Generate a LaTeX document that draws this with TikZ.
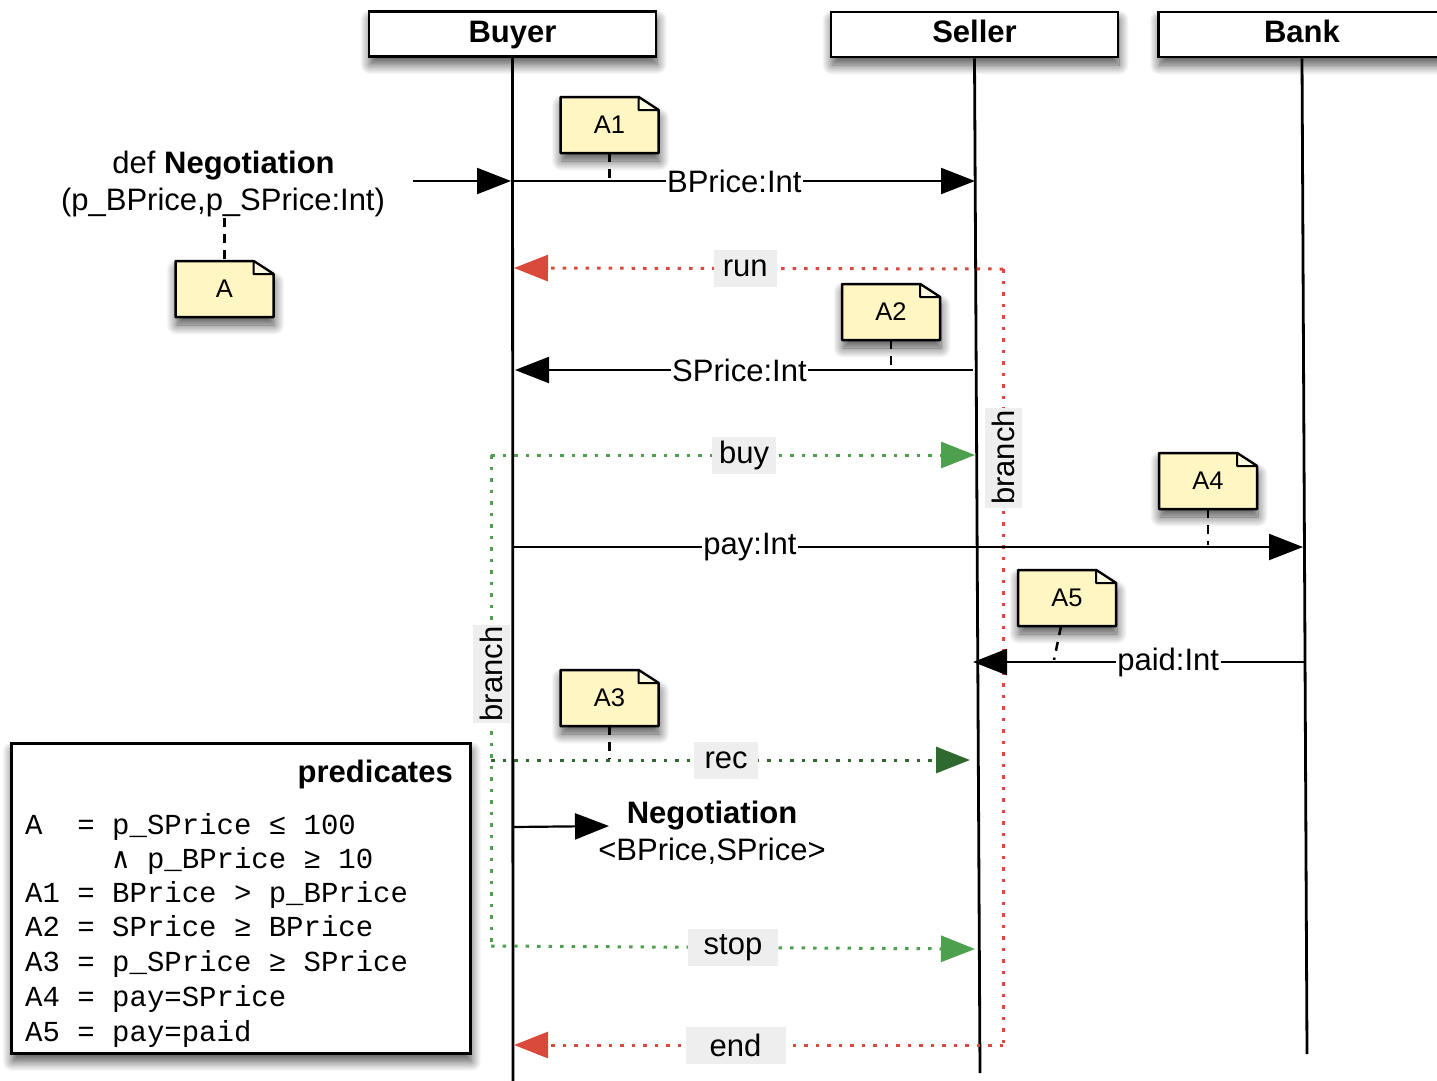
\documentclass[tikz,border=0pt]{standalone}
\usepackage{fontspec}
\setmainfont{Liberation Sans}
\newfontfamily\monof{Liberation Mono}
\newfontfamily\symf{DejaVu Sans Mono}
\usetikzlibrary{arrows.meta,calc,shadows.blur}
\definecolor{notefill}{HTML}{FFF6C4}
\definecolor{foldfill}{HTML}{FFFBE3}
\definecolor{runred}{HTML}{D94A3D}
\definecolor{lgreen}{HTML}{4DA04D}
\definecolor{dgreen}{HTML}{2F6930}
\definecolor{lblgray}{HTML}{EEEEEE}
\tikzset{
  bigfont/.style={font=\fontsize{31}{37}\selectfont},
  softshadow/.style={blur shadow={shadow xshift=1pt, shadow yshift=-8pt, shadow blur radius=10pt, shadow blur steps=14, shadow opacity=70}},
  header/.style={draw, line width=2.8pt, fill=white, minimum width=287pt, minimum height=45pt, inner sep=0pt, text height=22pt, text depth=6pt, font=\fontsize{31}{37}\selectfont\bfseries, softshadow},
  lifeline/.style={line width=2.8pt},
  bigtip/.style={-{Triangle[length=34pt,width=26pt]}},
  msg/.style={line width=2.2pt, bigtip},
  mlabel/.style={fill=white, inner xsep=1.5pt, inner ysep=1pt, bigfont},
  glabel/.style={fill=lblgray, inner sep=0pt, minimum height=37pt, bigfont},
  reddot/.style={draw=runred, line width=3pt, dash pattern=on 3.5pt off 8pt},
  gdot/.style={draw=lgreen, line width=3pt, dash pattern=on 3.5pt off 8pt},
  dgdot/.style={draw=dgreen, line width=3pt, dash pattern=on 3.5pt off 8pt},
  notelink/.style={line width=2.5pt, dash pattern=on 9pt off 7pt},
  mono/.style={anchor=base west, inner sep=0pt, font=\monof\fontsize{29}{34}\selectfont},
  predbox/.style={draw, line width=2.8pt, fill=white, softshadow, minimum width=459pt, minimum height=310pt, inner sep=0pt}
}
\newcommand\notebox[3]{%
  \coordinate (#1c) at (#2);
  \filldraw[fill=notefill, draw=black, line width=2.5pt, line join=round, softshadow]
    ($(#1c)+(-49,-28)$) -- ($(#1c)+(29,-28)$) -- ($(#1c)+(49,-15)$) -- ($(#1c)+(49,28)$) -- ($(#1c)+(-49,28)$) -- cycle;
  \filldraw[fill=foldfill, draw=black, line width=2pt, line join=round]
    ($(#1c)+(29,-28)$) -- ($(#1c)+(29,-15)$) -- ($(#1c)+(49,-15)$) -- cycle;
  \node[minimum width=98pt, minimum height=56pt, inner sep=0pt, font=\fontsize{25.5}{30}\selectfont] (#1) at (#1c) {#3};
}
\begin{document}
\begin{tikzpicture}[x=1pt,y=-1pt]
\useasboundingbox (0,0) rectangle (1437,1080);
\clip (0,0) rectangle (1437,1080);

% headers
\node[header] (Buyer) at (512.5,34) {Buyer};
\node[header] (Seller) at (974.5,34.5) {Seller};
\node[header] (Bank) at (1302,34.5) {Bank};

% lifelines
\coordinate (buyerEnd) at (513,1082);
\coordinate (sellerEnd) at (980,1073);
\coordinate (bankEnd) at (1307,1054);
\draw[lifeline] (Buyer.south) -- (buyerEnd);
\draw[lifeline] (Seller.south) -- (sellerEnd);
\draw[lifeline] (Bank.south) -- (bankEnd);

% coordinates of message ends
\coordinate (defarr) at (413,181);
\coordinate (b0) at (511,181);
\coordinate (b1) at (513,181);
\coordinate (s1) at (975,181);
\coordinate (r0) at (1003,269);
\coordinate (b2) at (514,268);
\coordinate (s2) at (973,370);
\coordinate (b3) at (515,370);
\coordinate (g0) at (491,455);
\coordinate (s3) at (975,455);
\coordinate (b4) at (513,547);
\coordinate (k1) at (1303,547);
\coordinate (k2) at (1305,662);
\coordinate (s4) at (973,662);
\coordinate (g1) at (491,760);
\coordinate (s5) at (970,760);
\coordinate (b5) at (513,827);
\coordinate (negcall) at (609,826);
\coordinate (g2) at (491,946);
\coordinate (s6) at (975,949);
\coordinate (r1) at (1003,1045);
\coordinate (b9) at (514,1045);

% definition
\node[anchor=base, inner sep=0pt, bigfont] (defa) at (223.5,173) {def \textbf{Negotiation}};
\node[anchor=base, inner sep=1pt, bigfont] (defb) at (223,210) {(p\_BPrice,p\_SPrice:Int)};
\draw[msg] (defarr) -- (b0);

% red branch
\draw[reddot] (r0) -- node[glabel, rotate=90, minimum width=100pt, pos=0.243] {branch} (r1);
\draw[reddot, bigtip] (r0) -- node[glabel, minimum width=63pt, pos=0.527] {run} (b2);
\draw[reddot, bigtip] (r1) -- node[glabel, minimum width=100pt, pos=0.547] {end} (b9);

% green branch
\draw[gdot] (g0) -- node[glabel, rotate=90, minimum width=98pt, pos=0.44, xshift=-3pt] {branch} (g2);
\draw[gdot, bigtip] (g0) -- node[glabel, minimum width=64pt, pos=0.523] {buy} (s3);
\draw[dgdot, bigtip] (g1) -- node[glabel, minimum width=64pt, pos=0.491] {rec} (s5);
\draw[gdot, bigtip] (g2) -- node[glabel, minimum width=90pt, pos=0.5] {stop} (s6);

% messages
\draw[msg] (b1) -- node[mlabel, pos=0.479] {BPrice:Int} (s1);
\draw[msg] (s2) -- node[mlabel, pos=0.51] {SPrice:Int} (b3);
\draw[msg] (b4) -- node[mlabel, pos=0.30] {pay:Int} (k1);
\draw[msg] (k2) -- node[mlabel, pos=0.412] {paid:Int} (s4);
\draw[msg] (b5) -- (negcall);
\node[anchor=base, inner sep=0pt, font=\fontsize{31}{37}\selectfont\bfseries] (negA) at (712,823) {Negotiation};
\node[anchor=base, inner sep=0pt, bigfont] (negB) at (712,860) {<BPrice,SPrice>};

% notes
\coordinate (A1m) at (609.5,181);
\coordinate (A2m) at (891,370);
\coordinate (A3m) at (609.5,759);
\coordinate (A4m) at (1208,545);
\coordinate (A5m) at (1054,660);
\notebox{A}{224.5,289}{A}
\notebox{A1}{609.5,125}{A1}
\notebox{A2}{891,312}{A2}
\notebox{A3}{609.5,698}{A3}
\notebox{A4}{1208,481}{A4}
\notebox{A5}{1067,598}{A5}
\draw[notelink] (A.north |- defb.south) -- (A.north);
\draw[notelink] (A1.south) -- (A1m);
\draw[notelink] (A2.south) -- (A2m);
\draw[notelink] (A3.south) -- (A3m);
\draw[notelink] (A4.south) -- (A4m);
\draw[notelink] ([xshift=-6pt]A5.south) -- (A5m);

% predicates
\node[predbox, anchor=north west] (pred) at (10,742) {};
\node[anchor=base east, inner sep=0pt, font=\fontsize{31}{37}\selectfont\bfseries] (predt) at (453,782) {predicates};
\node[mono] (p1) at (25,834) {A~~=~p\_SPrice~≤~100};
\node[mono] (p2) at (112,868) {{\symf ∧}~p\_BPrice~≥~10};
\node[mono] (p3) at (25,902) {A1~=~BPrice~>~p\_BPrice};
\node[mono] (p4) at (25,936) {A2~=~SPrice~≥~BPrice};
\node[mono] (p5) at (25,971) {A3~=~p\_SPrice~≥~SPrice};
\node[mono] (p6) at (25,1006) {A4~=~pay=SPrice};
\node[mono] (p7) at (25,1041) {A5~=~pay=paid};
\end{tikzpicture}
\end{document}
